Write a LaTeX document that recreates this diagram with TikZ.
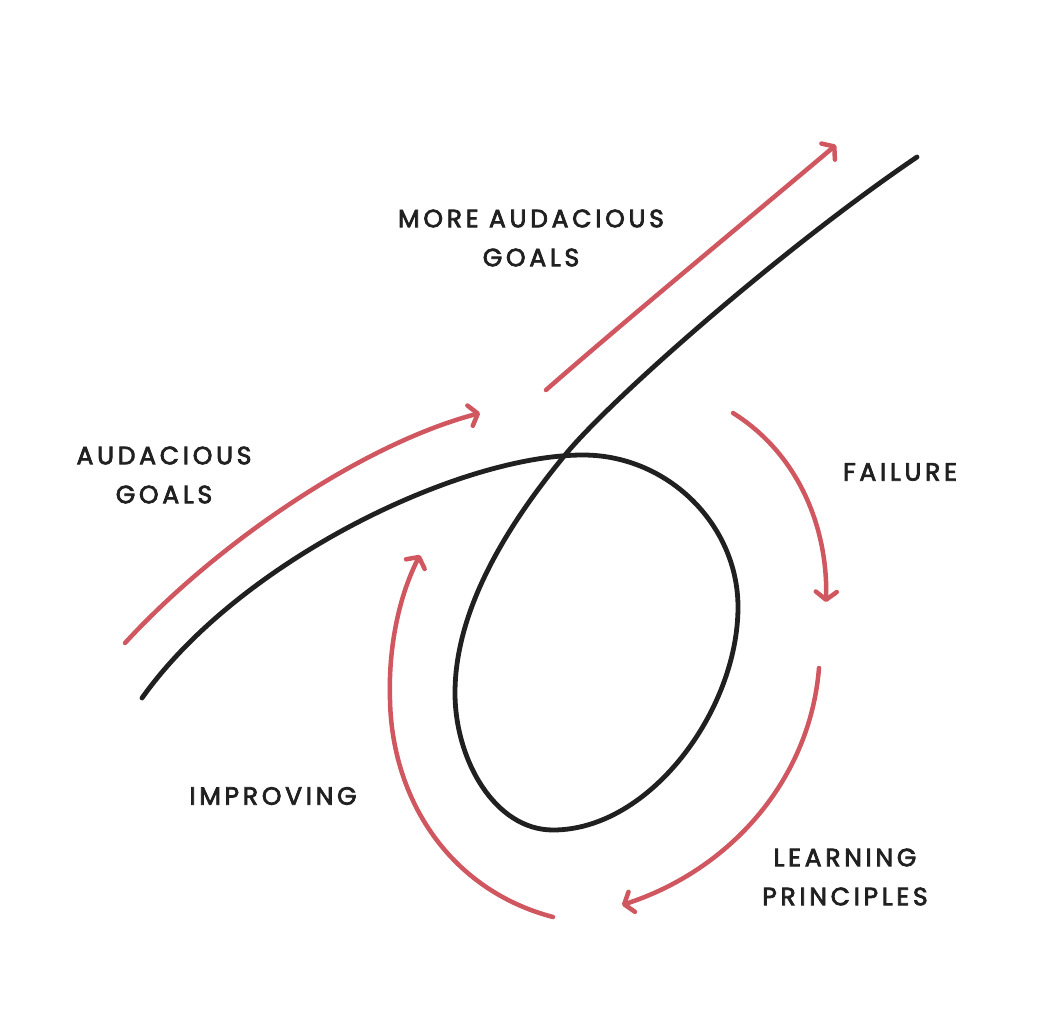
\documentclass[tikz,border=0pt]{standalone}
\usepackage{fontspec}
\setmainfont{Poppins}[LetterSpace=15, FakeBold=3]
\usetikzlibrary{arrows.meta}
\definecolor{redline}{RGB}{208,86,96}
\definecolor{inkline}{RGB}{32,32,32}
\tikzset{
  loopline/.style={draw=inkline, line width=4.8pt, line cap=round},
  flow/.style={draw=redline, line width=4.5pt, line cap=round,
    -{Straight Barb[length=8pt,width=21pt,round]}},
  lbl/.style={font=\fontsize{25}{39}\selectfont, text=inkline, align=center, inner sep=0pt}
}
\begin{document}
\begin{tikzpicture}[x=1pt,y=-1pt]
\fill[white] (0,0) rectangle (1042,1010);
\useasboundingbox (0,0) rectangle (1042,1010);
% main path with loop
\coordinate (s) at (142,698);
\coordinate (top) at (583,455);
\coordinate (rgt) at (738,607);
\coordinate (bot) at (553,830);
\coordinate (lft) at (455,693);
\coordinate (x) at (565,455);
\coordinate (e) at (917,157);
\draw[loopline] (s) .. controls (240,560) and (460,455) .. (top)
  .. controls (668,455) and (738,525) .. (rgt)
  .. controls (738,710) and (650,830) .. (bot)
  .. controls (495,830) and (455,760) .. (lft)
  .. controls (455,600) and (520,510) .. (x)
  .. controls (610,400) and (780,250) .. (e);
% red arrows
\coordinate (a1) at (125,643); \coordinate (a2) at (480,413);
\draw[flow] (a1) .. controls (215,545) and (360,445) .. (a2);
\coordinate (b1) at (546,390); \coordinate (b2) at (836,145);
\draw[flow] (b1) .. controls (620,325) and (735,230) .. (b2);
\coordinate (c1) at (733,413); \coordinate (c2) at (826,602);
\draw[flow] (c1) .. controls (800,455) and (828,530) .. (c2);
\coordinate (d1) at (819,668); \coordinate (d2) at (622,905);
\draw[flow] (d1) .. controls (810,780) and (730,870) .. (d2);
\coordinate (f1) at (553,917); \coordinate (fm) at (390,700); \coordinate (f2) at (420,555);
\draw[flow] (f1) .. controls (450,890) and (392,800) .. (fm)
  .. controls (388,640) and (402,590) .. (f2);
% labels
\node[lbl] (more) at (531,238) {MORE AUDACIOUS\\GOALS};
\node[lbl] (aud) at (164,475) {AUDACIOUS\\GOALS};
\node[lbl] (fail) at (900,472) {FAILURE};
\node[lbl] (impr) at (273,796) {IMPROVING};
\node[lbl] (learn) at (845,877) {LEARNING\\PRINCIPLES};
\end{tikzpicture}
\end{document}
